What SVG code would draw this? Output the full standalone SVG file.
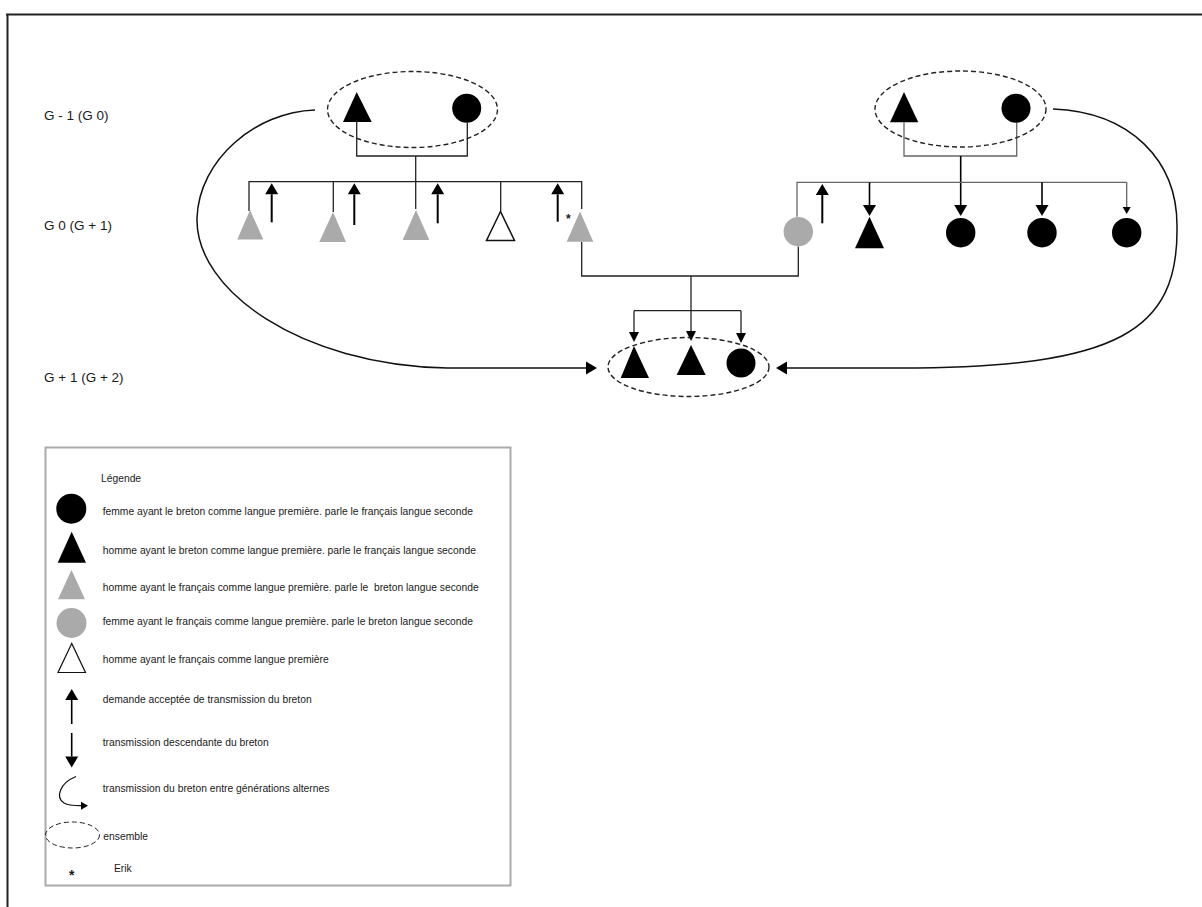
<svg xmlns="http://www.w3.org/2000/svg" width="1202" height="907" viewBox="0 0 1202 907">
<style>
  text { font-family: "Liberation Sans", Arial, sans-serif; fill: #1a1a1a; }
  .gen { font-size: 13.5px; }
  .leg { font-size: 10.3px; }
  .star { font-size: 14px; font-weight: bold; }
  .blk { fill: #000; }
  .gry { fill: #aaa; }
  .wht { fill: #fff; stroke: #111; stroke-width: 1.5; }
  .ens { fill: none; stroke: #222; stroke-width: 1.4; stroke-dasharray: 5 3; }
  .ln { fill: none; stroke: #222; stroke-width: 1.3; }
  .lng { fill: none; stroke: #666; stroke-width: 1.3; }
  .arr { fill: none; stroke: #000; stroke-width: 2; }
  .crv { fill: none; stroke: #111; stroke-width: 1.5; }
</style>
<defs>
  <marker id="ahL" markerUnits="userSpaceOnUse" markerWidth="11" markerHeight="13" refX="0" refY="6.5" orient="auto" overflow="visible">
    <path d="M0,0 L11,6.5 L0,13 z" fill="#000"/>
  </marker>
  <marker id="ahM" markerUnits="userSpaceOnUse" markerWidth="10" markerHeight="10" refX="0" refY="5" orient="auto" overflow="visible">
    <path d="M0,0 L10,5 L0,10 z" fill="#000"/>
  </marker>
  <marker id="ahS" markerUnits="userSpaceOnUse" markerWidth="7" markerHeight="8" refX="0" refY="4" orient="auto" overflow="visible">
    <path d="M0,0 L7,4 L0,8 z" fill="#000"/>
  </marker>
</defs>

<rect x="0" y="0" width="1202" height="907" fill="#fff"/>

<!-- frame -->
<g id="frame">
  <path d="M6,14.5 H1202" stroke="#222" stroke-width="2" fill="none"/>
  <path d="M7.5,14 V907" stroke="#222" stroke-width="2" fill="none"/>
</g>

<!-- generation labels -->
<g id="labels">
  <text class="gen" x="44" y="120">G - 1 (G 0)</text>
  <text class="gen" x="44" y="230">G 0 (G + 1)</text>
  <text class="gen" x="44" y="382">G + 1 (G + 2)</text>
</g>

<!-- connectors -->
<g id="connectors">
  <!-- left parents bracket -->
  <path class="ln" d="M356.7,122 V156 H467.3 V122.8"/>
  <path class="ln" d="M415.7,156 V209"/>
  <!-- left sibling line -->
  <path class="ln" d="M249,211 V181.7 H581.7 V209"/>
  <path class="ln" d="M333.3,181.7 V212"/>
  <path class="ln" d="M500.7,181.7 V211"/>
  <!-- request arrows -->
  <path class="arr" d="M271.7,222.3 V194.3" marker-end="url(#ahL)"/>
  <path class="arr" d="M354.3,225 V194.3" marker-end="url(#ahL)"/>
  <path class="arr" d="M437.7,223.3 V194.3" marker-end="url(#ahL)"/>
  <path class="arr" d="M557.7,221.7 V194.3" marker-end="url(#ahL)"/>
  <path class="arr" d="M822.3,223.3 V195" marker-end="url(#ahL)"/>
  <!-- couple Erik + gray woman -->
  <path class="ln" d="M581.7,241.7 V276 H798.3 V246.4"/>
  <path class="ln" d="M691,276 V331" marker-end="url(#ahM)"/>
  <path class="ln" d="M634,310.7 H741"/>
  <path class="ln" d="M634,310.7 V332" marker-end="url(#ahM)"/>
  <path class="ln" d="M741,310.7 V333" marker-end="url(#ahM)"/>
  <!-- right parents bracket -->
  <path class="lng" d="M904,122.3 V156 H1016.7 V122.8"/>
  <path class="arr" d="M960.7,156 V205" marker-end="url(#ahL)" style="stroke-width:1.6"/>
  <!-- right sibling line -->
  <path class="lng" d="M797,216.7 V182.3 H1126.7"/>
  <path class="arr" d="M869.5,182.3 V205" marker-end="url(#ahL)" style="stroke-width:1.6"/>
  <path class="arr" d="M1042,182.3 V205" marker-end="url(#ahL)" style="stroke-width:1.6"/>
  <path class="lng" d="M1126.7,182.3 V207" marker-end="url(#ahS)"/>
  <!-- alternate generation curves -->
  <path class="crv" d="M315,110 C255,112 199,160 197,218 C195,290 300,365 447,368 L586,368" marker-end="url(#ahL)"/>
  <path class="crv" d="M1053,109 C1130,112 1178,160 1177,228 C1178,330 1120,368 900,368 L787,368" marker-end="url(#ahL)"/>
</g>

<!-- ensembles -->
<g id="ens-left"><ellipse class="ens" cx="412.5" cy="109.5" rx="85" ry="38"/></g>
<g id="ens-right"><ellipse class="ens" cx="960.5" cy="109" rx="85.5" ry="38"/></g>
<g id="ens-bottom"><ellipse class="ens" cx="688.5" cy="367" rx="80.5" ry="29.5"/></g>

<!-- G-1 nodes -->
<g id="gp-left-man"><polygon class="blk" points="356.7,92 343,122 371.7,122"/></g>
<g id="gp-left-woman"><circle class="blk" cx="466.7" cy="108.3" r="14.5"/></g>
<g id="gp-right-man"><polygon class="blk" points="904,92 890,122.3 918.3,122.3"/></g>
<g id="gp-right-woman"><circle class="blk" cx="1016" cy="108.3" r="14.5"/></g>

<!-- G0 nodes -->
<g id="c1"><polygon class="gry" points="250,210 237.3,239.5 263.3,239.5"/></g>
<g id="c2"><polygon class="gry" points="333,212 319.3,242 346,242"/></g>
<g id="c3"><polygon class="gry" points="416,210 402.7,240 429.3,240"/></g>
<g id="c4"><polygon class="wht" points="500.5,211.5 486.5,240.5 514.5,240.5"/></g>
<g id="erik">
  <polygon class="gry" points="580,211.5 566.7,241.7 593.3,241.7"/>
  <text class="star" x="568.3" y="223" text-anchor="middle" style="font-size:12px">*</text>
</g>
<g id="c6"><circle class="gry" cx="798.3" cy="231.7" r="14.7"/></g>
<g id="c7"><polygon class="blk" points="869.5,216.7 855,248.3 884,248.3"/></g>
<g id="c8"><circle class="blk" cx="960.7" cy="232.7" r="14.7"/></g>
<g id="c9"><circle class="blk" cx="1042" cy="232.7" r="14.7"/></g>
<g id="c10"><circle class="blk" cx="1126.7" cy="232.7" r="14.7"/></g>

<!-- G+1 nodes -->
<g id="k1"><polygon class="blk" points="634,346 620.7,378 649,378"/></g>
<g id="k2"><polygon class="blk" points="691,345 676.7,375 705.7,375"/></g>
<g id="k3"><circle class="blk" cx="741" cy="363" r="14.5"/></g>

<!-- legend -->
<g id="legend">
  <rect x="45.5" y="447.5" width="465" height="438" fill="#fff" stroke="#aaa" stroke-width="2"/>
  <text class="leg" x="101" y="482">Légende</text>
  <circle class="blk" cx="71.3" cy="508.7" r="15"/>
  <text class="leg" x="102.7" y="515">femme ayant le breton comme langue première. parle le français langue seconde</text>
  <polygon class="blk" points="71.7,531.7 57.7,562.7 86,562.7"/>
  <text class="leg" x="102.7" y="553.5">homme ayant le breton comme langue première. parle le français langue seconde</text>
  <polygon class="gry" points="71.5,570 58,599.3 85,599.3"/>
  <text class="leg" x="102.7" y="591" xml:space="preserve">homme ayant le français comme langue première. parle le  breton langue seconde</text>
  <circle class="gry" cx="71.5" cy="623" r="15"/>
  <text class="leg" x="102.7" y="624.5">femme ayant le français comme langue première. parle le breton langue seconde</text>
  <polygon class="wht" points="71.7,643.5 58,672.5 85.5,672.5" style="stroke-width:1.2"/>
  <text class="leg" x="102.7" y="663">homme ayant le français comme langue première</text>
  <path class="arr" d="M71.7,724 V700" marker-end="url(#ahL)" style="stroke-width:1.6"/>
  <text class="leg" x="102.7" y="702.5">demande acceptée de transmission du breton</text>
  <path class="arr" d="M71.7,733 V756.5" marker-end="url(#ahL)" style="stroke-width:1.6"/>
  <text class="leg" x="102.7" y="746">transmission descendante du breton</text>
  <path class="crv" d="M76,776.5 C60,783 55,797 64,803 C68,805.5 73,805.7 81,805.7" marker-end="url(#ahS)" style="stroke-width:1.2"/>
  <text class="leg" x="102.7" y="791.5">transmission du breton entre générations alternes</text>
  <ellipse class="ens" cx="72.5" cy="835" rx="27" ry="13" style="stroke-width:1"/>
  <text class="leg" x="103.3" y="839.5">ensemble</text>
  <text class="star" x="71.7" y="880" text-anchor="middle">*</text>
  <text class="leg" x="114" y="872">Erik</text>
</g>
</svg>
